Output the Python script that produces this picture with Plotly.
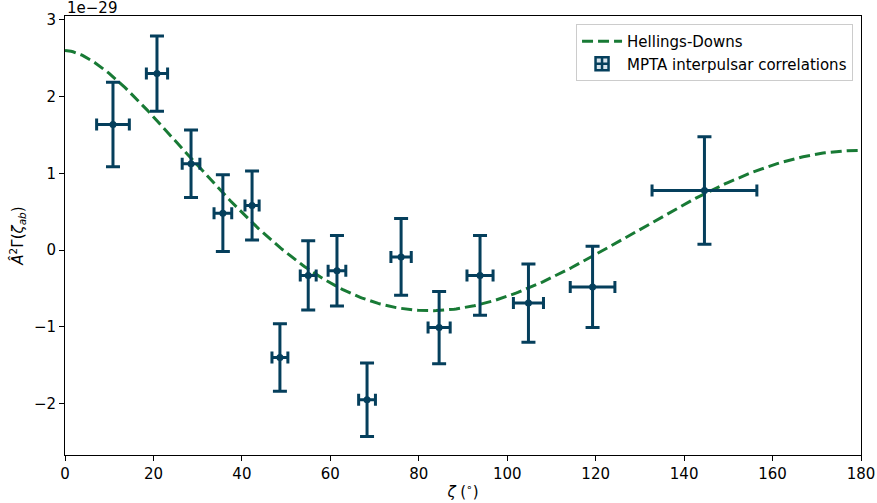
import numpy as np
import plotly.graph_objects as go

# Interpulsar correlation bins (angles in degrees, correlations in units of 1e-29)
zeta = [10.85, 20.8, 28.5, 35.7, 42.3, 48.6, 55.0, 61.5, 68.3, 76.0, 84.6, 93.85, 104.8, 119.3, 144.6]
zeta_err = [3.7, 2.4, 2.0, 2.0, 1.6, 1.8, 1.8, 2.0, 1.9, 2.3, 2.5, 2.95, 3.4, 5.05, 11.85]
corr = [1.636, 2.30, 1.126, 0.48, 0.58, -1.40, -0.33, -0.27, -1.95, -0.09, -1.01, -0.33, -0.69, -0.48, 0.776]
corr_err = [0.55, 0.49, 0.44, 0.50, 0.45, 0.44, 0.45, 0.46, 0.48, 0.50, 0.47, 0.52, 0.51, 0.53, 0.70]

# Fitted GW amplitude squared (units of 1e-29)
A2 = 5.2

NAVY = "#053f5c"
GREEN = "#187a35"
FONT = "DejaVu Sans"

# Hellings-Downs correlation curve
zz = np.linspace(0, 180, 400)
xx = (1 - np.cos(np.radians(zz))) / 2
xlogx = np.where(xx > 0, xx * np.log(np.where(xx > 0, xx, 1)), 0.0)
hd = A2 * (0.5 - 0.25 * xx + 1.5 * xlogx)

fig = go.Figure()

fig.add_trace(go.Scatter(
    x=zz, y=hd, mode="lines", name="Hellings-Downs",
    line=dict(color=GREEN, width=3, dash="11px,5px"),
))

fig.add_trace(go.Scatter(
    x=zeta, y=corr, mode="markers", showlegend=False,
    marker=dict(color=NAVY, size=7),
    error_x=dict(type="data", array=zeta_err, color=NAVY, thickness=3, width=6),
    error_y=dict(type="data", array=corr_err, color=NAVY, thickness=3, width=7),
))

# legend entry for the error-bar points
fig.add_trace(go.Scatter(
    x=[None], y=[None], mode="markers", name="MPTA interpulsar correlations",
    marker=dict(symbol="square-cross", size=13, color="#d8e4ec",
                line=dict(color=NAVY, width=2.5)),
))

axis_common = dict(
    showline=True, linecolor="black", linewidth=1, mirror=True,
    ticks="outside", ticklen=5, tickwidth=1, tickcolor="black",
    showgrid=False, zeroline=False, automargin=False,
    tickfont=dict(family=FONT, size=15, color="black"),
)

fig.update_xaxes(
    range=[0, 180], tickvals=[0, 20, 40, 60, 80, 100, 120, 140, 160, 180],
    title=dict(text="<i>ζ</i> (<sup>∘</sup>)", font=dict(family=FONT, size=15, color="black"),
               standoff=4),
    **axis_common,
)
fig.update_yaxes(
    range=[-2.67, 3.05], tickvals=[-2, -1, 0, 1, 2, 3],
    ticktext=["−2", "−1", "0", "1", "2", "3"],
    title=dict(text="<i>Â</i><sup>2</sup>Γ(<i>ζ<sub>ab</sub></i>)",
               font=dict(family=FONT, size=15, color="black"), standoff=6),
    **axis_common,
)

fig.add_annotation(
    text="1e−29", xref="paper", yref="paper", x=0, y=1.0,
    xanchor="left", yanchor="bottom", showarrow=False, yshift=-3,
    font=dict(family=FONT, size=15, color="black"),
)

fig.update_layout(
    width=877, height=503,
    margin=dict(l=65, r=16, t=16, b=48),
    plot_bgcolor="white", paper_bgcolor="white",
    font=dict(family=FONT, size=15, color="black"),
    legend=dict(
        x=0.99, y=0.982, xanchor="right", yanchor="top",
        bgcolor="rgba(255,255,255,0.8)", bordercolor="#cccccc", borderwidth=1,
        font=dict(family=FONT, size=15, color="black"),
        itemwidth=40, tracegroupgap=0,
    ),
)

fig.write_html("out.html")
